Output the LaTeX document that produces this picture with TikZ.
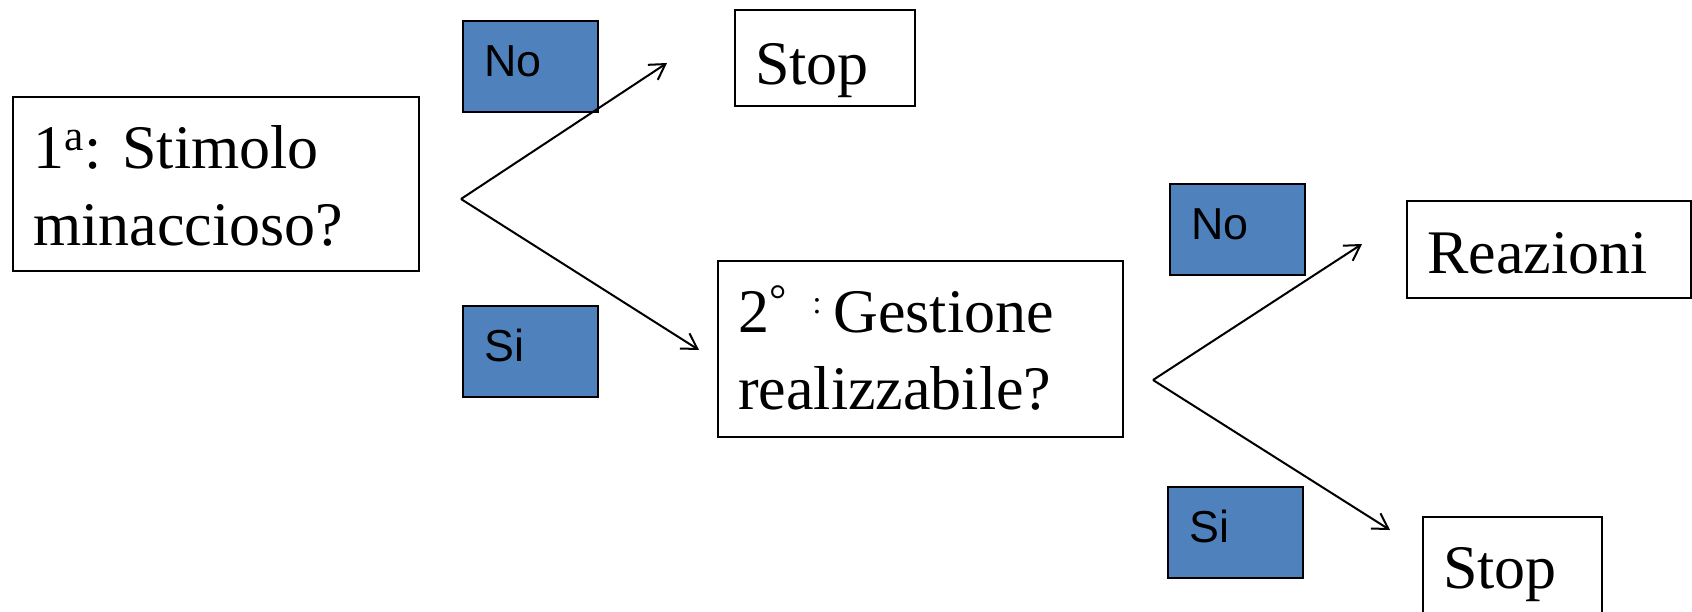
\documentclass[tikz,border=0pt]{standalone}
\usepackage{fontspec}
\setmainfont{Liberation Serif}
\setsansfont{Liberation Sans}
\frenchspacing
\usetikzlibrary{arrows.meta}
\definecolor{tagblue}{RGB}{79,129,189}
\tikzset{
  box/.style={draw, line width=1.2pt, anchor=north west, inner xsep=10pt, inner ysep=0pt, align=left,
    font=\fontsize{31}{38.5}\selectfont},
  tag/.style={draw, fill=tagblue, line width=1.2pt, anchor=north west, inner xsep=10.5pt, inner ysep=0pt,
    align=left, text width=46.5pt, text height=27.5pt, text depth=18pt,
    font=\sffamily\fontsize{22.4}{26}\selectfont},
}
% small raised colon after the degree sign
\newcommand{\smallcolon}{\raisebox{9.5pt}{\fontsize{16}{16}\selectfont:}}
\begin{document}
\begin{tikzpicture}[x=0.5pt,y=-0.5pt,>={Straight Barb[length=7.5pt,width=9pt]}]
\useasboundingbox (0,0) rectangle (1692,611);
\node[box, text width=183pt, text height=35.5pt, text depth=51.5pt] (q1) at (12,96) {1\textsuperscript{a}: Stimolo\\minaccioso?};
\node[box, text width=182.5pt, text height=35.5pt, text depth=52.5pt] (q2) at (717,260) {2\textsuperscript{°}\hspace{12.5pt}\smallcolon\hspace{6pt}Gestione\\realizzabile?};
\node[box, text width=70pt, text height=37pt, text depth=11pt] (stopA) at (734,9) {Stop};
\node[box, text width=122pt, text height=36pt, text depth=12.5pt] (react) at (1406,200) {Reazioni};
\node[box, text width=69.5pt, text height=35.5pt, text depth=30pt] (stopB) at (1422,516) {Stop};
\node[tag] (no1) at (462,20) {No};
\node[tag] (si1) at (462,305) {Si};
\node[tag] (no2) at (1169,183) {No};
\node[tag] (si2) at (1167,486) {Si};
% fork points and arrow ends
\coordinate (fork1) at (461,199);
\coordinate (end1a) at (667,63);
\coordinate (end1b) at (699,350);
\coordinate (fork2) at (1153,380);
\coordinate (end2a) at (1362,244);
\coordinate (end2b) at (1390,530);
\path[draw,line width=1pt,->] (fork1) -- (end1a);
\path[draw,line width=1pt,->] (fork1) -- (end1b);
\path[draw,line width=1pt,->] (fork2) -- (end2a);
\path[draw,line width=1pt,->] (fork2) -- (end2b);
\end{tikzpicture}
\end{document}
